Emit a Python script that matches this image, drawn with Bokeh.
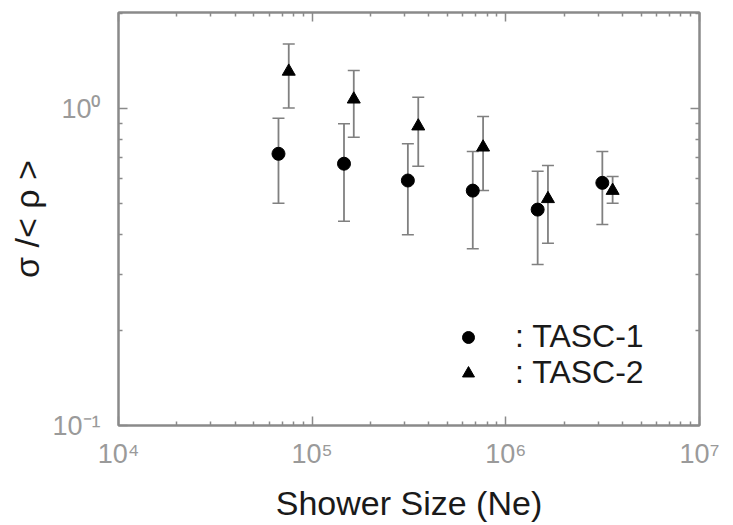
from bokeh.plotting import figure
from bokeh.models import (ColumnDataSource, Whisker, TeeHead, LogAxis, FixedTicker,
                          Legend, LegendItem, Range1d)
from bokeh.embed import file_html
from bokeh.resources import INLINE

# ---- data ----
tasc1_ne = [6.7e4, 1.46e5, 3.12e5, 6.75e5, 1.46e6, 3.15e6]
tasc1_val = [0.720, 0.670, 0.593, 0.551, 0.480, 0.583]
tasc1_hi = [0.932, 0.895, 0.774, 0.732, 0.634, 0.732]
tasc1_lo = [0.503, 0.441, 0.400, 0.361, 0.322, 0.431]

tasc2_ne = [7.57e4, 1.64e5, 3.53e5, 7.63e5, 1.65e6, 3.56e6]
tasc2_val = [1.310, 1.070, 0.880, 0.755, 0.519, 0.551]
tasc2_hi = [1.600, 1.318, 1.086, 0.944, 0.661, 0.611]
tasc2_lo = [1.005, 0.812, 0.658, 0.551, 0.376, 0.503]

x_ticks = [10**4, 10**5, 10**6, 10**7]
x_tick_labels = ["10\u2074", "10\u2075", "10\u2076", "10\u2077"]
y_ticks = [0.1, 1]
y_tick_labels = ["10\u207b\u00b9", "10\u2070"]

series_labels = [": TASC-1", ": TASC-2"]
x_title = "Shower Size (Ne)"
y_title = "\u03c3 /< \u03c1 >"

FRAME = "#8a8a8a"
TICKLBL = "#9a9a9a"
ERR = "#808080"
INK = "#1a1a1a"
FONT = "Liberation Sans"

x_minor = [m * 10**e for e in range(4, 7) for m in range(2, 10)]
y_minor = [m * 10**e for e in range(-1, 1) for m in range(2, 10)]

p = figure(width=733, height=525, x_axis_type="log", y_axis_type="log",
           x_range=Range1d(1e4, 1e7), y_range=Range1d(0.1, 2.01),
           output_backend="svg", toolbar_location=None,
           min_border_left=118, min_border_right=34,
           min_border_top=12, min_border_bottom=100)
p.grid.visible = False
p.outline_line_color = FRAME
p.outline_line_width = 2
p.background_fill_color = "white"
p.border_fill_color = "white"

xt = FixedTicker(ticks=x_ticks, minor_ticks=x_minor)
yt = FixedTicker(ticks=y_ticks, minor_ticks=y_minor)


def style_axis(ax, ticker, labels=None, show=True):
    ax.ticker = ticker
    ax.axis_line_color = FRAME
    ax.axis_line_width = 2
    ax.major_tick_line_color = FRAME
    ax.minor_tick_line_color = FRAME
    ax.major_tick_line_width = 1.5
    ax.minor_tick_line_width = 1.5
    ax.major_tick_in = 9
    ax.major_tick_out = 0
    ax.minor_tick_in = 4
    ax.minor_tick_out = 0
    if show:
        ax.major_label_overrides = labels
        ax.major_label_text_color = TICKLBL
        ax.major_label_text_font = FONT
        ax.major_label_text_font_size = "27px"
    else:
        ax.major_label_text_font_size = "1px"
        ax.major_label_text_alpha = 0
        ax.major_label_standoff = 0


xa = p.xaxis[0]
ya = p.yaxis[0]
style_axis(xa, xt, dict(zip(x_ticks, x_tick_labels)))
style_axis(ya, yt, dict(zip(y_ticks, y_tick_labels)))
xa.major_label_standoff = 13
ya.major_label_standoff = 18

xa.axis_label = x_title
xa.axis_label_text_font = FONT
xa.axis_label_text_font_size = "34px"
xa.axis_label_text_font_style = "normal"
xa.axis_label_text_color = INK
xa.axis_label_standoff = 12

ya.axis_label = y_title
ya.axis_label_text_font = FONT
ya.axis_label_text_font_size = "34px"
ya.axis_label_text_font_style = "normal"
ya.axis_label_text_color = INK
ya.axis_label_standoff = 3

top = LogAxis()
right = LogAxis()
style_axis(top, FixedTicker(ticks=x_ticks, minor_ticks=x_minor), show=False)
style_axis(right, FixedTicker(ticks=y_ticks, minor_ticks=y_minor), show=False)
p.add_layout(top, "above")
p.add_layout(right, "right")

s1 = ColumnDataSource(dict(x=tasc1_ne, y=tasc1_val, hi=tasc1_hi, lo=tasc1_lo))
s2 = ColumnDataSource(dict(x=tasc2_ne, y=tasc2_val, hi=tasc2_hi, lo=tasc2_lo))

for src in (s1, s2):
    w = Whisker(base="x", upper="hi", lower="lo", source=src,
                line_color=ERR, line_width=1.8,
                upper_head=TeeHead(size=12, line_color=ERR, line_width=1.5),
                lower_head=TeeHead(size=12, line_color=ERR, line_width=1.5))
    p.add_layout(w)

r1 = p.scatter("x", "y", source=s1, marker="circle", size=13,
               fill_color="black", line_color="black")
r2 = p.scatter("x", "y", source=s2, marker="triangle", size=13,
               fill_color="black", line_color="black")

for lbl, rend, loc in ((series_labels[0], r1, (335, 70)),
                       (series_labels[1], r2, (335, 34))):
    lg = Legend(items=[LegendItem(label=lbl, renderers=[rend])],
                location=loc, border_line_color=None,
                background_fill_alpha=0, padding=0, margin=0, spacing=0,
                glyph_width=30, glyph_height=30, label_standoff=32,
                label_text_font=FONT, label_text_font_size="32px",
                label_text_color=INK)
    p.add_layout(lg)

open("out.html", "w").write(file_html(p, INLINE))
